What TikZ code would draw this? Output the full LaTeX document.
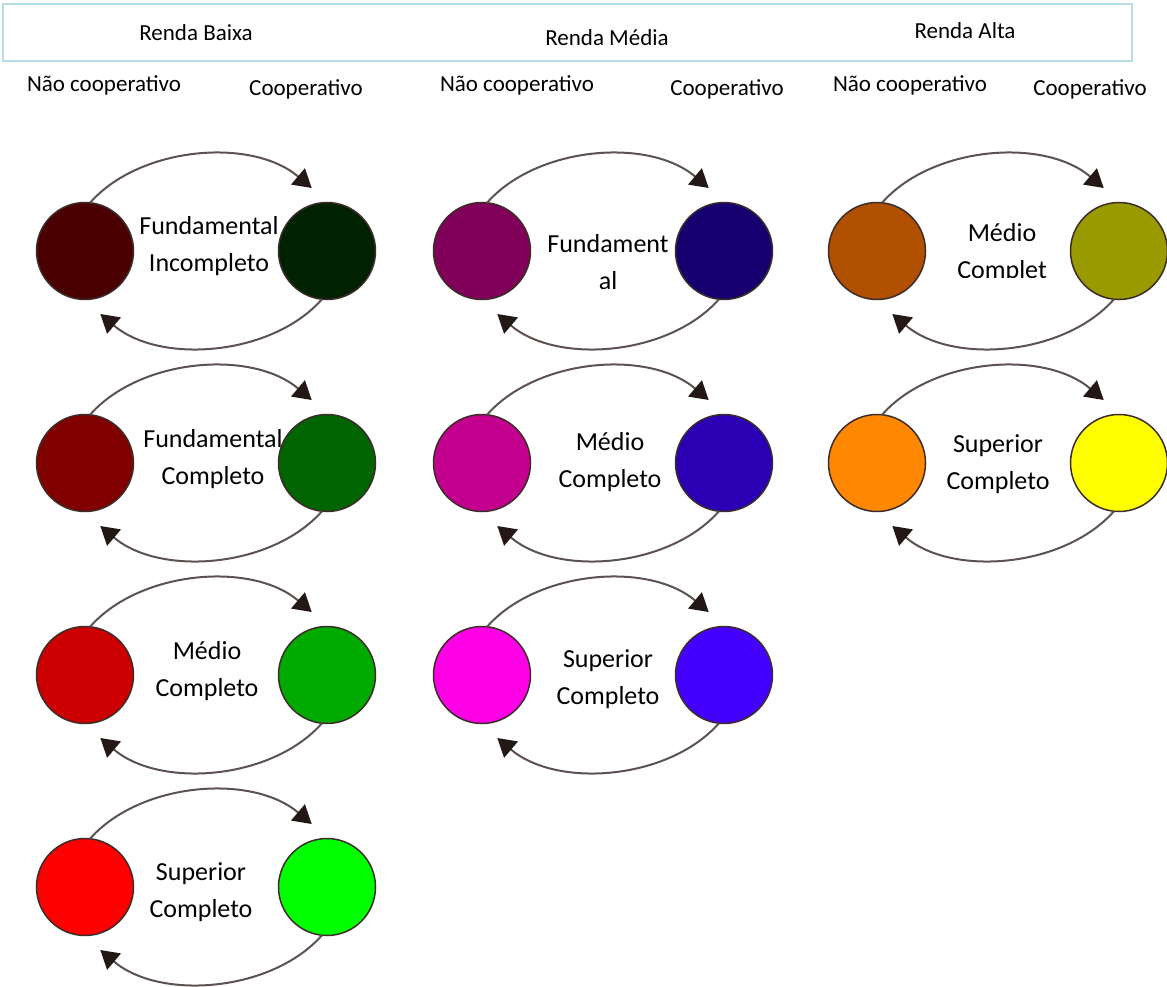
\documentclass[tikz,border=0pt]{standalone}
\usepackage{fontspec}
\setmainfont{Carlito}
\usetikzlibrary{arrows.meta}

\definecolor{rim}{RGB}{60,45,42}
\definecolor{arcgray}{RGB}{92,82,80}
\definecolor{tipcol}{RGB}{35,24,21}
\definecolor{bandcol}{RGB}{183,221,232}
% Renda Baixa
\definecolor{bxLa}{RGB}{74,0,0}     \definecolor{bxRa}{RGB}{0,34,0}
\definecolor{bxLb}{RGB}{128,0,0}    \definecolor{bxRb}{RGB}{0,100,0}
\definecolor{bxLc}{RGB}{204,0,0}    \definecolor{bxRc}{RGB}{0,170,0}
\definecolor{bxLd}{RGB}{255,0,0}    \definecolor{bxRd}{RGB}{0,255,0}
% Renda Media
\definecolor{mdLa}{RGB}{128,0,90}   \definecolor{mdRa}{RGB}{22,0,112}
\definecolor{mdLb}{RGB}{196,0,143}  \definecolor{mdRb}{RGB}{43,0,181}
\definecolor{mdLc}{RGB}{255,0,230}  \definecolor{mdRc}{RGB}{68,0,255}
% Renda Alta
\definecolor{atLa}{RGB}{176,80,0}   \definecolor{atRa}{RGB}{153,153,0}
\definecolor{atLb}{RGB}{255,136,0}  \definecolor{atRb}{RGB}{255,255,0}

\begin{document}
\begin{tikzpicture}[x=1pt, y=-1pt,
    dot/.style={circle, draw=rim, line width=1.5pt, minimum size=97pt,
      inner sep=0pt, outer sep=0pt},
    swap/.style={line width=2pt, draw=arcgray,
      -{Triangle[width=21pt, length=18pt, color=tipcol]}},
    lbl/.style={font=\fontsize{26}{37}\selectfont, align=center,
      anchor=base, inner sep=0pt},
    hdr/.style={font=\fontsize{23}{28}\selectfont, anchor=base, inner sep=0pt}]
    \useasboundingbox (0,0) rectangle (1167,987);
    % Header band
    \draw[bandcol, line width=2pt] (3,4) rectangle (1132,61);
    \node[hdr] (baixa) at (196,41) {Renda Baixa};
    \node[hdr] (media) at (607,46) {Renda Média};
    \node[hdr] (alta)  at (965,39) {Renda Alta};
    \foreach \k/\nx/\cx in {1/104/306, 2/517/727, 3/910/1090} {
      \node[hdr] (nc\k) at (\nx,92) {Não cooperativo};
      \node[hdr] (co\k) at (\cx,96) {Cooperativo};
    }
    % Pairs of circles with their two arcs
    \foreach \n/\x/\y/\lc/\rc in {
        a/85/251/bxLa/bxRa, b/85/463/bxLb/bxRb,
        c/85/675/bxLc/bxRc, d/85/887/bxLd/bxRd,
        e/482/251/mdLa/mdRa, f/482/463/mdLb/mdRb, g/482/675/mdLc/mdRc,
        h/877/251/atLa/atRa, i/877/463/atLb/atRb} {
      \node[dot, fill=\lc] (L\n) at (\x,\y) {};
      \node[dot, fill=\rc] (R\n) at (\x+242,\y) {};
      \draw[swap] (L\n.84) .. controls +(49.6,-56.4) and +(-60.2,-51) ..
        ([shift={(-15.3,-63)}]R\n.center);
      \draw[swap] (R\n.264) .. controls +(-49.6,56.4) and +(60.2,51) ..
        ([shift={(15.3,63)}]L\n.center);
    }
    % Labels between the circles (anchor = baseline of last line)
    \foreach \n/\tx/\ty/\txt in {
        a/209/271/{Fundamental\\Incompleto},
        b/213/484/{Fundamental\\Completo},
        c/207/696/{Médio\\Completo},
        d/201/917/{Superior\\Completo},
        e/608/289/{Fundament\\al},
        f/610/487/{Médio\\Completo},
        g/608/704/{Superior\\Completo},
        i/998/489/{Superior\\Completo}} {
      \node[lbl] (T\n) at (\tx,\ty) {\txt};
    }
    \begin{scope}
      \clip (930,200) rectangle (1075,277);
      \node[lbl] (Th) at (1002,278) {Médio\\Complet};
    \end{scope}
\end{tikzpicture}
\end{document}
